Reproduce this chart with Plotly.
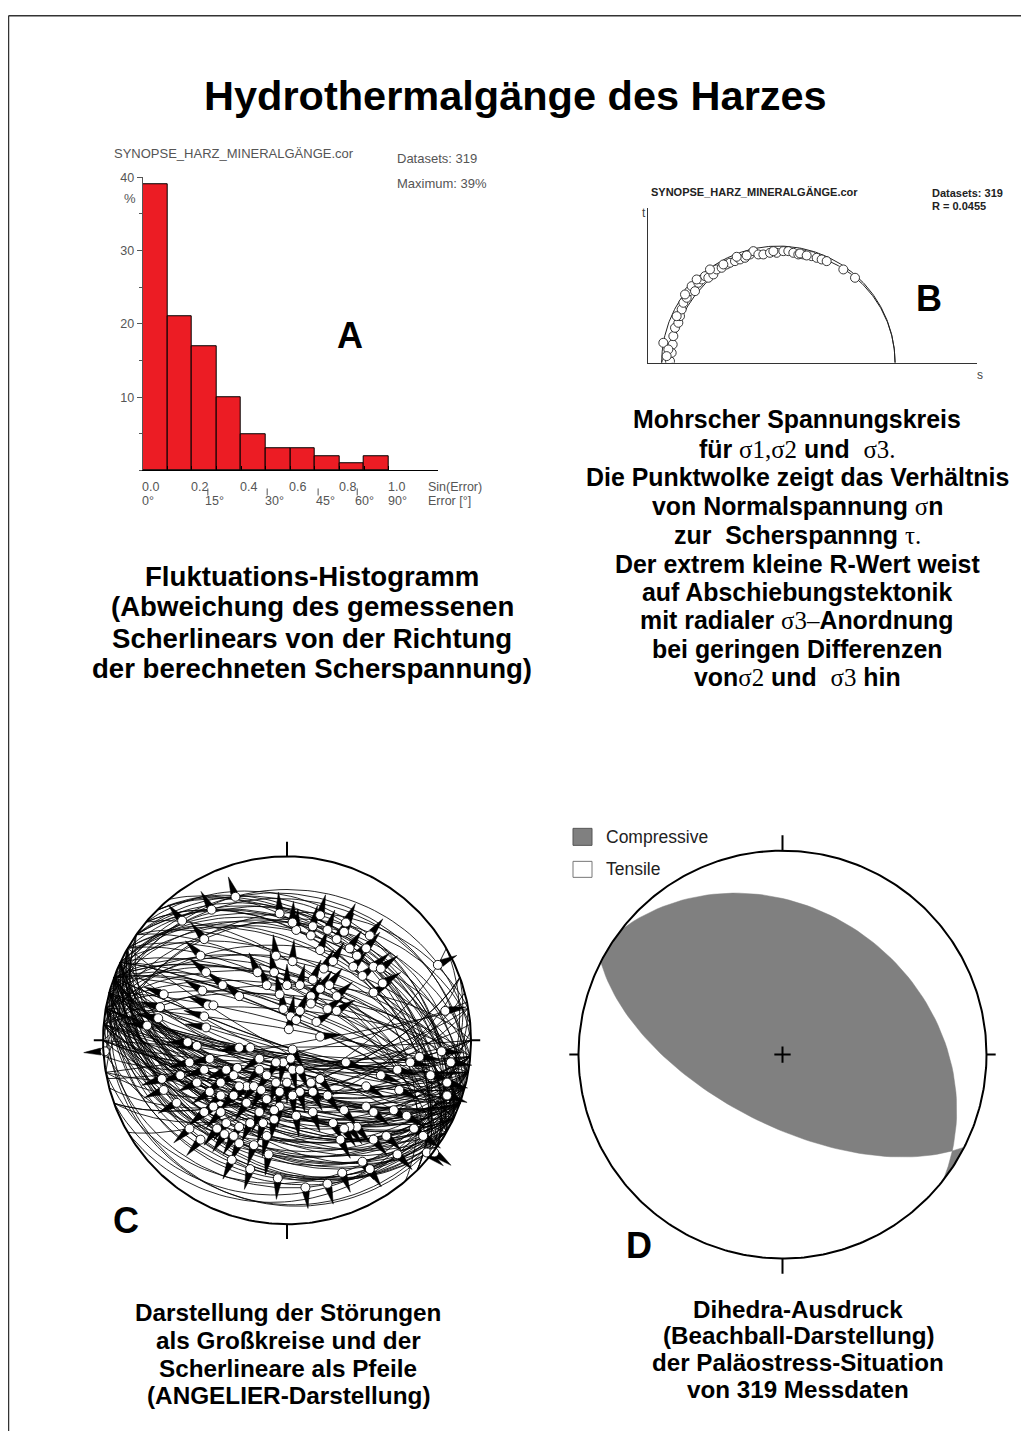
import numpy as np
import plotly.graph_objects as go

W, H = 1029, 1447
OX, OY = 8, 8                # default page margin of the html body
FW, FH = W - 16, H - 24      # figure size that fits in the window without scrolling
FONT = "Liberation Sans"
VS, VO = 0.99536, 7.45       # small vertical calibration of the capture


def PX(x):
    return (x - OX) / FW


def PY(y):
    return 1 - ((y - VO) / VS - OY) / FH


# ---------------- Panel A: fluctuation histogram ----------------
A_bin_left = [0.0, 0.1, 0.2, 0.3, 0.4, 0.5, 0.6, 0.7, 0.8, 0.9]
A_percent = [39, 21, 17, 10, 5, 3, 3, 2, 1, 2]
A_sin_ticks = [0.0, 0.2, 0.4, 0.6, 0.8, 1.0]
A_sin_labels = ["0.0", "0.2", "0.4", "0.6", "0.8", "1.0"]
A_angle_ticks = [0, 15, 30, 45, 60, 90]
A_angle_labels = ["0°", "15°", "30°", "45°", "60°", "90°"]
A_y_ticks = [10, 20, 30, 40]

# ---------------- Panel B: Mohr circle ----------------
B_sigma1 = 75.1
B_sigma3 = 4.15
B_R = 0.0455
B_sn = [4.66, 6.69, 7.19, 7.50, 7.70, 8.21, 9.22, 9.73, 10.23, 10.74, 11.75, 12.56,
        13.27, 14.29, 15.30, 16.31, 17.33, 18.34, 19.86, 20.87, 22.39, 23.91, 24.92,
        26.44, 27.96, 29.48, 31.00, 32.02, 33.54, 35.06, 37.08, 39.11, 41.13, 42.65,
        44.17, 45.69, 47.21, 49.75, 51.27, 52.79, 54.31, 59.37, 62.92, 6.18, 5.67,
        8.71, 11.25, 14.79, 18.84, 22.90, 26.95, 29.99, 38.10, 46.20, 48.23]
B_tau = [6.08, 0.51, 3.04, 5.57, 8.11, 10.64, 12.16, 14.18, 16.21, 18.24, 19.76, 21.78,
         23.30, 21.78, 24.32, 25.33, 26.34, 25.84, 26.85, 28.37, 28.88, 29.89, 30.40,
         30.90, 31.41, 31.91, 32.93, 33.94, 32.93, 32.93, 33.43, 33.43, 33.94, 33.94,
         33.43, 32.93, 32.93, 32.42, 31.91, 31.41, 30.90, 28.37, 25.84, 4.05, 2.03,
         14.18, 20.77, 25.33, 28.37, 29.89, 32.22, 32.62, 33.94, 33.23, 32.62]

# ---------------- Panel C: striations (net coordinates, equal-area) + fault dip direction ----------------
C_lin_x = [-0.28, -0.41, -0.57, -0.45, -0.47, -0.44, -0.16, -0.07, 0.05, 0.13, 0.18, 0.27,
           0.32, 0.45, 0.43, 0.25, 0.20, 0.14, 0.03, 0.00, 0.07, -0.04, 0.18, 0.23, 0.27,
           0.47, 0.47, 0.52, 0.41, 0.36, 0.13, 0.22, 0.27, 0.16, 0.13,
           -0.67, -0.69, -0.70, -0.46, -0.43, -0.40, -0.45, -0.35, -0.26, -0.44, -0.76, -0.99,
           -0.49, -0.54, -0.26, -0.20, -0.15, 0.02, 0.05, 0.01, 0.03,
           -0.68, -0.67, -0.58, -0.45, -0.42, -0.33, -0.27, -0.22, -0.26, -0.18, -0.14, -0.42,
           -0.36, -0.29, -0.22, -0.11, -0.04, -0.15, -0.07, -0.02, 0.02, -0.06, 0.03, 0.07,
           0.13, 0.18, 0.14, 0.22, 0.07, 0.03, -0.60, -0.45, -0.36, -0.33, -0.26, -0.13,
           -0.07, -0.26, -0.18, -0.34, -0.38, -0.29,
           0.32, 0.43, 0.51, 0.61, 0.78, 0.87, 0.84, 0.72, 0.31, 0.38, 0.47, 0.47, 0.54,
           0.41, 0.74, 0.76, 0.80, 0.22, 0.82, 0.86, 0.34, 0.31,
           -0.04, 0.03, 0.14, 0.18, 0.22, 0.31, 0.34, 0.38, 0.51, -0.06, -0.11, -0.02, 0.07, 0.18,
           -0.49, -0.53, -0.36, -0.29, -0.11, -0.06, 0.00, -0.15, -0.40, -0.20, -0.11, -0.04,
           0.14, 0.05, 0.25, 0.29, -0.53, -0.47,
           0.58, 0.65, 0.69, 0.87, 0.89, 0.67, 0.60, 0.43,
           0.10, -0.05, 0.30, 0.45, -0.20, 0.60, -0.10, -0.30]
C_lin_y = [0.78, 0.71, 0.65, 0.55, 0.46, 0.37, 0.37, 0.37, 0.60, 0.57, 0.49, 0.55,
           0.64, 0.57, 0.50, 0.43, 0.39, 0.33, 0.43, 0.30, 0.30, 0.25, 0.28, 0.30, 0.24,
           0.40, 0.26, 0.31, 0.35, 0.40, 0.24, 0.17, 0.16, 0.10, 0.20,
           0.25, 0.18, 0.12, 0.27, 0.19, 0.19, 0.13, 0.30, 0.24, 0.07, 0.08, -0.06,
           -0.03, -0.01, -0.04, -0.04, -0.10, 0.13, 0.11, 0.06, -0.05,
           -0.21, -0.27, -0.19, -0.16, -0.10, -0.16, -0.15, -0.25, -0.25, -0.25, -0.27, -0.28,
           -0.30, -0.30, -0.34, -0.32, -0.36, -0.39, -0.38, -0.12, -0.10, -0.12, -0.16, -0.16,
           -0.23, -0.21, -0.28, -0.30, -0.28, -0.30, -0.34, -0.39, -0.39, -0.45, -0.47, -0.45,
           -0.43, -0.56, -0.57, -0.51, -0.48, -0.52,
           -0.12, -0.25, -0.19, -0.27, -0.19, -0.30, -0.06, -0.09, -0.38, -0.47, -0.39, -0.54, -0.52,
           -0.66, -0.52, -0.61, -0.61, -0.78, 0.41, 0.16, -0.47, -0.48,
           0.69, 0.64, 0.62, 0.68, 0.60, 0.59, 0.50, 0.46, 0.39, 0.46, 0.30, 0.17, 0.16, 0.02,
           -0.23, -0.12, -0.23, -0.19, -0.19, -0.23, -0.23, -0.16, -0.36, -0.45, -0.52, -0.28,
           -0.39, -0.41, -0.45, -0.54, -0.48, -0.54,
           -0.38, -0.41, -0.48, -0.23, -0.12, -0.12, -0.16, -0.36,
           -0.80, -0.75, -0.72, -0.70, -0.70, -0.62, -0.62, -0.65]
C_dipdir = [15, 10, 0, 355, 5, 10, 20, 15, 25, 20, 30, 25, 35, 40, 35, 30, 25, 20, 15, 10,
            20, 5, 30, 35, 40, 45, 50, 45, 40, 40, 25, 30, 35, 25, 20,
            205, 200, 195, 10, 210, 15, 200, 20, 25, 195, 190, 177, 180, 185, 190, 190, 200,
            20, 25, 10, 200,
            210, 215, 210, 205, 200, 205, 200, 195, 200, 190, 185, 210, 205, 200, 195, 190,
            185, 190, 185, 180, 190, 185, 175, 170, 160, 160, 165, 160, 170, 180, 215, 210,
            205, 200, 195, 190, 185, 195, 190, 205, 210, 200,
            195, 195, 190, 195, 185, 190, 180, 180, 200, 195, 200, 205, 200, 205, 200, 205,
            195, 200, 150, 168, 200, 205,
            350, 5, 15, 20, 25, 30, 35, 35, 45, 10, 0, 5, 20, 170,
            205, 200, 210, 195, 190, 200, 195, 205, 215, 200, 195, 185, 190, 200, 195, 200,
            210, 205,
            200, 195, 205, 190, 185, 185, 190, 200,
            185, 195, 170, 160, 200, 150, 190, 210]

# ---------------- Panel D: dihedra nodal planes ----------------
D_dipdir = [38, 207]
D_dip = [30, 62]
D_legend = ["Compressive", "Tensile"]


def plane_vecs(dd, dip):
    s = np.radians(dd - 90)
    d = np.radians(dd)
    p = np.radians(dip)
    a = np.array([np.sin(s), np.cos(s), 0.0])
    b = np.array([np.sin(d) * np.cos(p), np.cos(d) * np.cos(p), -np.sin(p)])
    return a, b


def proj(v):
    v = np.asarray(v, float)
    e, n, u = v[0], v[1], v[2]
    flip = u > 0
    e = np.where(flip, -e, e)
    n = np.where(flip, -n, n)
    u = np.where(flip, -u, u)
    h = np.hypot(e, n)
    h = np.where(h < 1e-12, 1e-12, h)
    r = np.sqrt(np.clip(1 + u, 0, None))
    return r * e / h, r * n / h


def gc_arc(dd, dip, t0, t1, n=80):
    a, b = plane_vecs(dd, dip)
    th = np.linspace(t0, t1, n)
    v = np.outer(a, np.cos(th)) + np.outer(b, np.sin(th))
    return proj(v)


fig = go.Figure()

# ---- A bars ----
A_centers = [x + 0.05 for x in A_bin_left]
fig.add_trace(go.Bar(x=A_centers, y=A_percent, width=0.1,
                     marker=dict(color="#EC1C24", line=dict(color="black", width=1)),
                     xaxis="x", yaxis="y", showlegend=False, hoverinfo="skip"))

# ---- B Mohr circles ----
B_sigma2 = B_sigma3 + B_R * (B_sigma1 - B_sigma3)
for lo, hi in [(B_sigma3, B_sigma1), (B_sigma3, B_sigma2), (B_sigma2, B_sigma1)]:
    c = (lo + hi) / 2
    r = (hi - lo) / 2
    ph = np.linspace(0, np.pi, 200)
    fig.add_trace(go.Scatter(x=c + r * np.cos(ph), y=r * np.sin(ph), mode="lines",
                             line=dict(color="#222", width=1), xaxis="x2", yaxis="y2",
                             showlegend=False, hoverinfo="skip"))
fig.add_trace(go.Scatter(x=B_sn, y=B_tau, mode="markers",
                         marker=dict(size=9, color="white", line=dict(color="#222", width=0.9)),
                         xaxis="x2", yaxis="y2", showlegend=False, hoverinfo="skip"))

# ---- C Angelier plot ----
gx, gy = [], []
arr_x, arr_y = [], []
for lx, ly, dd in zip(C_lin_x, C_lin_y, C_dipdir):
    r = min(np.hypot(lx, ly), 0.99)
    trend = np.degrees(np.arctan2(lx, ly))
    plunge = np.degrees(np.arcsin(1 - r * r))
    diff = np.radians((trend - dd + 180) % 360 - 180)
    c = max(np.cos(diff), 0.02)
    dip = np.degrees(np.arctan2(np.tan(np.radians(plunge)), c))
    dip = float(np.clip(dip, 12, 88))
    X, Y = gc_arc(dd, dip, 0, np.pi, 73)
    gx += list(X) + [None]
    gy += list(Y) + [None]
    ux, uy = np.sin(np.radians(trend)), np.cos(np.radians(trend))
    qx, qy = -uy, ux
    base, tip, hw = 0.022, 0.115, 0.019
    bx, by = lx + ux * base, ly + uy * base
    arr_x += [lx + ux * tip, bx + qx * hw, bx - qx * hw, lx + ux * tip, None]
    arr_y += [ly + uy * tip, by + qy * hw, by - qy * hw, ly + uy * tip, None]

fig.add_trace(go.Scatter(x=gx, y=gy, mode="lines", line=dict(color="black", width=0.85),
                         xaxis="x3", yaxis="y3", showlegend=False, hoverinfo="skip"))
fig.add_trace(go.Scatter(x=arr_x, y=arr_y, mode="lines", fill="toself", fillcolor="black",
                         line=dict(color="black", width=0.5),
                         xaxis="x3", yaxis="y3", showlegend=False, hoverinfo="skip"))
fig.add_trace(go.Scatter(x=C_lin_x, y=C_lin_y, mode="markers",
                         marker=dict(size=9, color="white", line=dict(color="black", width=0.9)),
                         xaxis="x3", yaxis="y3", showlegend=False, hoverinfo="skip"))
ph = np.linspace(0, 2 * np.pi, 400)
fig.add_trace(go.Scatter(x=np.cos(ph), y=np.sin(ph), mode="lines", line=dict(color="black", width=2),
                         xaxis="x3", yaxis="y3", showlegend=False, hoverinfo="skip"))

# ---- D dihedra ----
a1, b1 = plane_vecs(D_dipdir[0], D_dip[0])
a2, b2 = plane_vecs(D_dipdir[1], D_dip[1])
n1 = np.cross(a1, b1)
n2 = np.cross(a2, b2)
L = np.cross(n1, n2)
L = L / np.linalg.norm(L)
if L[2] > 0:
    L = -L
th1 = np.arctan2(L @ b1, L @ a1)
th2 = np.arctan2(L @ b2, L @ a2)
st1 = D_dipdir[0] - 90
st2 = D_dipdir[1] - 90


def prim(az0, az1, n=30):
    az = np.radians(np.linspace(az0, az1, n))
    return np.sin(az), np.cos(az)


x_a, y_a = gc_arc(D_dipdir[1], D_dip[1], np.pi, th2)
x_b, y_b = gc_arc(D_dipdir[0], D_dip[0], th1, 0)
x_c, y_c = prim(st1 % 360, (st2 + 180) % 360)
polx = list(x_a) + list(x_b) + list(x_c)
poly = list(y_a) + list(y_b) + list(y_c)
x_d, y_d = gc_arc(D_dipdir[1], D_dip[1], th2, 0)
x_e, y_e = prim(st2 % 360, (st1 + 180) % 360)
x_f, y_f = gc_arc(D_dipdir[0], D_dip[0], np.pi, th1)
polx += [None] + list(x_d) + list(x_e) + list(x_f)
poly += [None] + list(y_d) + list(y_e) + list(y_f)
fig.add_trace(go.Scatter(x=polx, y=poly, mode="lines", fill="toself", fillcolor="#808080",
                         line=dict(color="#808080", width=0.5),
                         xaxis="x4", yaxis="y4", showlegend=False, hoverinfo="skip"))
fig.add_trace(go.Scatter(x=np.cos(ph), y=np.sin(ph), mode="lines", line=dict(color="black", width=2),
                         xaxis="x4", yaxis="y4", showlegend=False, hoverinfo="skip"))

# ---------------- layout ----------------
ax_off = dict(visible=False, showgrid=False, zeroline=False, fixedrange=True)
layout = dict(
    width=FW, height=FH, margin=dict(l=0, r=0, t=0, b=0),
    paper_bgcolor="white", plot_bgcolor="rgba(0,0,0,0)",
    font=dict(family=FONT, color="black"),
    showlegend=False, bargap=0,
    xaxis=dict(domain=[PX(142.7), PX(437.9)], range=[0, 1.2], showline=True, linecolor="black",
               linewidth=1, ticks="inside", tickvals=[i / 10 for i in range(11)], ticklen=4,
               tickcolor="black", showticklabels=False, showgrid=False, zeroline=False,
               anchor="y", fixedrange=True),
    yaxis=dict(domain=[PY(471), PY(177.7)], range=[0, 40], showline=True, linecolor="#555",
               linewidth=1, ticks="outside", tickvals=A_y_ticks, ticklen=5, tickcolor="#555",
               minor=dict(dtick=5, ticks="outside", ticklen=3, tickcolor="#555"),
               tickfont=dict(size=12.5, color="#555"), showgrid=False, zeroline=False,
               anchor="x", fixedrange=True),
    xaxis2=dict(domain=[PX(648), PX(977)], range=[0, 100], showline=True, linecolor="#333",
                linewidth=1, showticklabels=False, ticks="", showgrid=False, zeroline=False,
                anchor="y2", fixedrange=True),
    yaxis2=dict(domain=[PY(363.3), PY(208.3)], range=[0, 47.1], showline=True, linecolor="#333",
                linewidth=1, showticklabels=False, ticks="", showgrid=False, zeroline=False,
                anchor="x2", fixedrange=True),
    xaxis3=dict(domain=[PX(287 - 1.15 * 184), PX(287 + 1.15 * 184)], range=[-1.15, 1.15],
                anchor="y3", **ax_off),
    yaxis3=dict(domain=[PY(1041 + 1.15 * 184), PY(1041 - 1.15 * 184)], range=[-1.15, 1.15],
                anchor="x3", **ax_off),
    xaxis4=dict(domain=[PX(782.5 - 1.15 * 204), PX(782.5 + 1.15 * 204)], range=[-1.15, 1.15],
                anchor="y4", **ax_off),
    yaxis4=dict(domain=[PY(1055.3 + 1.15 * 204), PY(1055.3 - 1.15 * 204)], range=[-1.15, 1.15],
                anchor="x4", **ax_off),
)

shapes = []
shapes.append(dict(type="line", xref="paper", yref="paper", x0=0.0005, y0=0.9995, x1=1, y1=0.9995,
                   line=dict(color="#333", width=1.5)))
shapes.append(dict(type="line", xref="paper", yref="paper", x0=0.0005, y0=0.9995, x1=0.0005, y1=0,
                   line=dict(color="#333", width=1.5)))
for ang in A_angle_ticks[1:5]:
    xv = float(np.sin(np.radians(ang))) + 0.006
    shapes.append(dict(type="line", xref="x", yref="paper", x0=xv, x1=xv, y0=PY(489), y1=PY(496),
                       line=dict(color="#555", width=1)))
for ax, (tl, sl) in [("3", (0.08, 0.05)), ("4", (0.075, 0.045))]:
    for x0, y0, x1, y1 in [(0, 1, 0, 1 + tl), (0, -1, 0, -1 - tl), (-1, 0, -1 - sl, 0), (1, 0, 1 + sl, 0)]:
        shapes.append(dict(type="line", xref="x" + ax, yref="y" + ax, x0=x0, y0=y0, x1=x1, y1=y1,
                           line=dict(color="black", width=2)))
shapes.append(dict(type="line", xref="x4", yref="y4", x0=-0.04, x1=0.04, y0=0, y1=0,
                   line=dict(color="black", width=2)))
shapes.append(dict(type="line", xref="x4", yref="y4", x0=0, x1=0, y0=-0.04, y1=0.04,
                   line=dict(color="black", width=2)))
shapes.append(dict(type="rect", xref="paper", yref="paper", x0=PX(573), x1=PX(592), y0=PY(846), y1=PY(829),
                   fillcolor="#808080", line=dict(color="#555", width=1)))
shapes.append(dict(type="rect", xref="paper", yref="paper", x0=PX(573), x1=PX(592), y0=PY(878), y1=PY(862),
                   fillcolor="white", line=dict(color="#777", width=1)))
layout["shapes"] = shapes

ann = []


def add(text, x, y, size, xanchor="center", color="black", family=FONT, xref="paper", xshift=0):
    ann.append(dict(text=text, x=x if xref != "paper" else PX(x), y=PY(y), xref=xref, yref="paper",
                    xanchor=xanchor, yanchor="middle", showarrow=False, xshift=xshift,
                    font=dict(size=size, color=color, family=family)))


NB = "\u00a0"
add("<b>Hydrothermalgänge des Harzes</b>", 515, 96, 41.5)

add("SYNOPSE_HARZ_MINERALGÄNGE.cor", 112, 154, 13, "left", "#555")
add("Datasets: 319", 395, 159, 13, "left", "#555")
add("Maximum: 39%", 395, 184, 13, "left", "#555")
add("%", 122, 199, 13, "left", "#555")
for v, t in zip(A_sin_ticks, A_sin_labels):
    add(t, v, 488, 12.5, "left", "#555", xref="x", xshift=-3)
for v, t in zip(A_angle_ticks, A_angle_labels):
    add(t, float(np.sin(np.radians(v))), 502, 12.5, "left", "#555", xref="x", xshift=-3)
add("Sin(Error)", 426, 488, 12.5, "left", "#555")
add("Error [°]", 426, 502, 12.5, "left", "#555")
add("<b>A</b>", 350, 336, 36)
for line, y in zip(["Fluktuations-Histogramm", "(Abweichung des gemessenen",
                    "Scherlinears von der Richtung", "der berechneten Scherspannung)"],
                   [577, 607, 639, 669]):
    add("<b>" + line + "</b>", 312, y, 27.6)

add("<b>SYNOPSE_HARZ_MINERALGÄNGE.cor</b>", 649, 192, 11, "left", "#222")
add("<b>Datasets: 319</b>", 930, 193, 11, "left", "#222")
add("<b>R = 0.0455</b>", 930, 206, 11, "left", "#222")
add("t", 644, 213, 12, "center", "#444")
add("s", 980, 376, 12, "center", "#444")
add("<b>B</b>", 929, 299, 36)


def sg(t):
    return '<span style="font-family:Liberation Serif">' + t + "</span>"


B_lines = [
    "<b>Mohrscher Spannungskreis</b>",
    "<b>für </b>" + sg("σ1,σ2") + "<b> und" + NB + NB + "</b>" + sg("σ3."),
    "<b>Die Punktwolke zeigt das Verhältnis</b>",
    "<b>von Normalspannung </b>" + sg("σ") + "<b>n</b>",
    "<b>zur" + NB + NB + "Scherspannng </b>" + sg("τ."),
    "<b>Der extrem kleine R-Wert weist</b>",
    "<b>auf Abschiebungstektonik</b>",
    "<b>mit radialer </b>" + sg("σ3–") + "<b>Anordnung</b>",
    "<b>bei geringen Differenzen</b>",
    "<b>von</b>" + sg("σ2") + "<b> und" + NB + NB + "</b>" + sg("σ3") + "<b> hin</b>",
]
for line, y in zip(B_lines, [420, 450, 478, 507, 536, 565, 593, 621, 650, 678]):
    add(line, 797, y, 24.9)

add("<b>C</b>", 126, 1221, 36)
for line, y in zip(["Darstellung der Störungen", "als Großkreise und der", "Scherlineare als Pfeile",
                    "(ANGELIER-Darstellung)"], [1313, 1341, 1369, 1396]):
    add("<b>" + line + "</b>", 288, y, 24.3)

add(D_legend[0], 604, 838, 17.5, "left", "#222")
add(D_legend[1], 604, 870, 17.5, "left", "#222")
add("<b>D</b>", 639, 1246, 36)
for line, y in zip(["Dihedra-Ausdruck", "(Beachball-Darstellung)", "der Paläostress-Situation",
                    "von 319 Messdaten"], [1310, 1336, 1363, 1390]):
    add("<b>" + line + "</b>", 798, y, 24.2)

layout["annotations"] = ann
fig.update_layout(**layout)
fig.write_html("out.html")
